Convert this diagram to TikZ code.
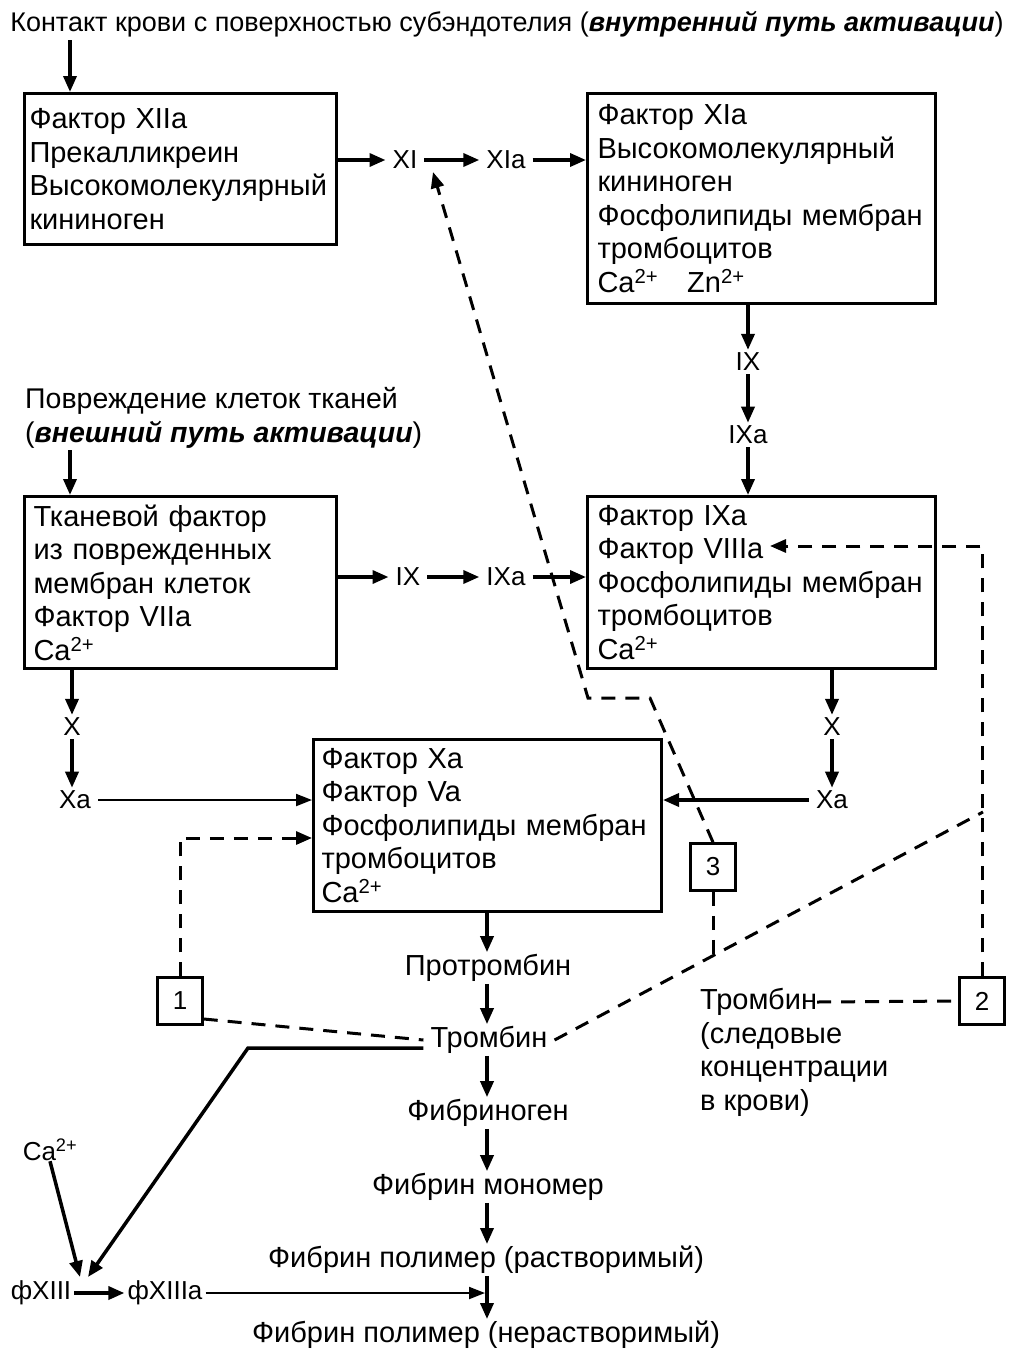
\documentclass[tikz,border=0pt]{standalone}
\usepackage{fontspec}
\setmainfont{Liberation Sans}
\usetikzlibrary{arrows.meta}
\begin{document}
\begin{tikzpicture}[x=1pt,y=-1pt,
  every node/.style={font=\fontsize{26}{33.5}\selectfont, inner sep=0pt},
  big/.style={font=\fontsize{29}{33.5}\selectfont},
  box/.style={big, draw, line width=3pt, anchor=north west, align=left},
  nbox/.style={draw, line width=2.5pt, minimum width=45pt, minimum height=47pt},
  lbl/.style={inner xsep=7pt, inner ysep=3pt},
  chain/.style={big, inner xsep=7pt, inner ysep=2pt},
  arr/.style={line width=3.5pt, -{Triangle[length=16pt,width=13pt]}},
  tarr/.style={line width=2pt, -{Triangle[length=16pt,width=12pt]}},
  darr/.style={line width=3pt, dash pattern=on 14pt off 10pt, -{Triangle[length=16pt,width=13pt]}},
  dline/.style={line width=3pt, dash pattern=on 14pt off 10pt},
]
\useasboundingbox (0,0) rectangle (1010,1352);

% --- headings ---
\node[font=\fontsize{27}{33.5}\selectfont] (title) at (507,24) {Контакт крови с поверхностью субэндотелия (\textbf{\textit{внутренний путь активации}})};
\node[anchor=west, font=\fontsize{28.5}{33.5}\selectfont] (ext1) at (25,401) {Повреждение клеток тканей};
\node[anchor=west, font=\fontsize{28.5}{33.5}\selectfont] (ext2) at (25,435) {(\textbf{\textit{внешний путь активации}})};

% --- boxes ---
\node[box, inner xsep=5pt, text width=302pt, minimum height=151pt] (boxA) at (23,92)
  {Фактор XIIa\\Прекалликреин\\Высокомолекулярный\\кининоген};
\node[box, inner xsep=10pt, text width=328pt, minimum height=210pt] (boxB) at (586,92)
  {Фактор XIa\\Высокомолекулярный\\кининоген\\Фосфолипиды мембран\\тромбоцитов\\Ca\textsuperscript{2+}\quad Zn\textsuperscript{2+}};
\node[box, inner xsep=9pt, text width=294pt, minimum height=172pt] (boxC) at (23,495)
  {Тканевой фактор\\из поврежденных\\мембран клеток\\Фактор VIIa\\Ca\textsuperscript{2+}};
\node[box, inner xsep=10pt, text width=328pt, minimum height=172pt] (boxD) at (586,495)
  {Фактор IXa\\Фактор VIIIa\\Фосфолипиды мембран\\тромбоцитов\\Ca\textsuperscript{2+}};
\node[box, inner xsep=8pt, text width=332pt, minimum height=172pt] (boxE) at (312,738)
  {Фактор Xa\\Фактор Va\\Фосфолипиды мембран\\тромбоцитов\\Ca\textsuperscript{2+}};

% --- factor labels ---
\node[lbl] (XI)   at (405,160) {XI};
\node[lbl] (XIa)  at (506,160) {XIa};
\node[lbl] (IXt)  at (748,362) {IX};
\node[lbl] (IXat) at (748,435) {IXa};
\node[lbl] (IXm)  at (408,577) {IX};
\node[lbl] (IXam) at (506,577) {IXa};
\node[lbl] (XL)   at (72,727) {X};
\node[lbl] (XaL)  at (75,800) {Xa};
\node[lbl] (XR)   at (832,727) {X};
\node[lbl] (XaR)  at (832,800) {Xa};

% --- common pathway ---
\coordinate (cx) at (487,0);
\node[chain] (pro)  at (488,968)  {Протромбин};
\node[chain] (thr)  at (489,1040) {Тромбин};
\node[chain] (fbg)  at (488,1113) {Фибриноген};
\node[chain] (mono) at (488,1187) {Фибрин мономер};
\node[chain] (polS) at (486,1260) {Фибрин полимер (растворимый)};
\node[chain] (polI) at (486,1335) {Фибрин полимер (нерастворимый)};

% --- trace thrombin ---
\node[big, anchor=west] (thr2) at (700,1002) {Тромбин};
\node[big, anchor=north west, align=left] (trace) at (700,1022) {(следовые\\концентрации\\в крови)};

% --- factor XIII ---
\node (ca)    at (50,1150) {Ca\textsuperscript{2+}};
\node[lbl, inner xsep=3pt] (f13)  at (41,1293) {фXIII};
\node[lbl, inner xsep=3pt] (f13a) at (165,1293) {фXIIIa};
\coordinate (f13in) at (84,1277);

% --- numbered feedback boxes ---
\node[nbox] (b1) at (180,1001) {1};
\node[nbox] (b2) at (982,1001) {2};
\node[nbox] (b3) at (713,867) {3};

% --- helper points ---
\coordinate (t1) at (70,40);
\coordinate (e1) at (70,450);
\coordinate (d1) at (180,838);
\coordinate (v8) at (770,546);
\coordinate (j2) at (983,812);
\coordinate (j3) at (713,956);
\coordinate (k1) at (650,698);
\coordinate (k2) at (588,698);
\coordinate (xitip) at (433,172);
\coordinate (th1) at (248,1048);

% --- intrinsic pathway ---
\draw[arr] (t1) -- (t1 |- boxA.north);
\draw[arr] (boxA.east |- XI) -- (XI.west);
\draw[arr] (XI.east) -- (XIa.west);
\draw[arr] (XIa.east) -- (XIa -| boxB.west);
\draw[arr] (IXt |- boxB.south) -- (IXt.north);
\draw[arr] (IXt.south) -- (IXat.north);
\draw[arr] (IXat.south) -- (IXat |- boxD.north);

% --- extrinsic pathway ---
\draw[arr] (e1) -- (e1 |- boxC.north);
\draw[arr] (boxC.east |- IXm) -- (IXm.west);
\draw[arr] (IXm.east) -- (IXam.west);
\draw[arr] (IXam.east) -- (IXam -| boxD.west);
\draw[arr] (XL |- boxC.south) -- (XL.north);
\draw[arr] (XL.south) -- (XL |- XaL.north);
\draw[arr] (XR |- boxD.south) -- (XR.north);
\draw[arr] (XR.south) -- (XR |- XaR.north);
\draw[tarr] (XaL.east) -- (XaL -| boxE.west);
\draw[arr] (XaR.west) -- (XaR -| boxE.east);

% --- common pathway ---
\draw[arr] (cx |- boxE.south) -- (cx |- pro.north);
\draw[arr] (cx |- pro.south) -- (cx |- thr.north);
\draw[arr] (cx |- thr.south) -- (cx |- fbg.north);
\draw[arr] (cx |- fbg.south) -- (cx |- mono.north);
\draw[arr] (cx |- mono.south) -- (cx |- polS.north);
\draw[arr] (cx |- polS.south) -- (cx |- polI.north);

% --- factor XIII activation ---
\draw[arr] (ca.south) -- ([xshift=-4pt]f13in);
\draw[arr] (thr.west |- th1) -- (th1) -- ([xshift=4pt]f13in);
\draw[arr] (f13.east) -- (f13a.west);
\draw[tarr, shorten >=2pt] (f13a.east) -- (f13a -| cx);

% --- thrombin feedback (dashed) ---
\draw[darr] (b1.north) -- (d1) -- (d1 -| boxE.west);
\draw[dline] (b1.east |- 0,1019) -- (thr.west);
\draw[dline] (thr.east) -- (j2);
\draw[dline] (b3.south) -- (j3);
\draw[darr] (b2.north) -- (b2.north |- v8) -- (v8);
\draw[dline] (thr2.east) -- (b2.west);
\draw[darr] (b3.north) -- (k1) -- (k2) -- (xitip);
\end{tikzpicture}
\end{document}
